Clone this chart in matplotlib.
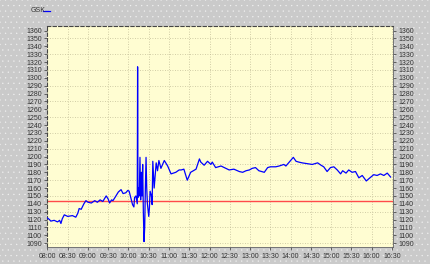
import matplotlib
matplotlib.use("Agg")
import matplotlib.pyplot as plt
import matplotlib.patches as patches

# -------------------------
# Data (minutes after 08:00, price)
# -------------------------
minutes = [0, 3, 5, 10, 15, 18, 20, 22, 25, 30, 37, 42, 45, 47, 50, 54, 57, 60,
           65, 70, 74, 78, 82, 87, 90, 92, 95, 97, 100, 105, 109, 112, 116, 119,
           121, 124, 126, 128, 129, 131, 133, 133.5, 134, 135, 136, 137, 138,
           139, 140, 141, 142, 143, 144, 145, 146, 147, 148, 150, 151, 152, 154,
           155, 156, 158, 161, 163, 165, 168, 173, 178, 183, 190, 195, 198,
           202, 207, 212, 220, 225, 227, 232, 237, 242, 244, 249, 257, 264, 269,
           276, 284, 289, 294, 299, 303, 308, 313, 321, 326, 330, 338, 343,
           350, 353, 358, 364, 368, 372, 377, 385, 392, 400, 405, 409, 414,
           419, 424, 429, 434, 437, 442, 446, 451, 456, 461, 466, 472, 476,
           483, 488, 493, 498, 503, 508]
price = [1122, 1120, 1118, 1119, 1117, 1119, 1115, 1121, 1126, 1124, 1125, 1123,
         1128, 1134, 1133, 1140, 1144, 1142, 1141, 1144, 1142, 1145, 1143, 1150,
         1146, 1141, 1145, 1144, 1148, 1155, 1158, 1153, 1154, 1157, 1156, 1146,
         1139, 1136, 1148, 1150, 1140, 1314, 1148, 1160, 1150, 1199, 1145, 1180,
         1150, 1190, 1130, 1092, 1110, 1160, 1199, 1160, 1140, 1124, 1135, 1156,
         1150, 1139, 1194, 1160, 1192, 1182, 1195, 1185, 1195, 1188, 1178, 1180,
         1183, 1183, 1184, 1170, 1180, 1184, 1197, 1193, 1189, 1194, 1190, 1193,
         1186, 1188, 1185, 1183, 1184, 1181, 1180, 1182, 1183, 1185, 1186, 1182,
         1180, 1186, 1187, 1187, 1188, 1190, 1188, 1193, 1199, 1194, 1193, 1192,
         1191, 1190, 1192, 1189, 1187, 1181, 1186, 1187, 1183, 1178, 1182, 1179,
         1183, 1180, 1181, 1173, 1176, 1169, 1172, 1177, 1176, 1178, 1176, 1179,
         1174]
ref_level = 1143
series_name = "GSK"

tick_labels = ["08:00", "08:30", "09:00", "09:30", "10:00", "10:30", "11:00",
               "11:30", "12:00", "12:30", "13:00", "13:30", "14:00", "14:30",
               "15:00", "15:30", "16:00", "16:30"]
tick_pos = [30 * i for i in range(len(tick_labels))]
y_ticks = list(range(1090, 1361, 10))
y_grid = list(range(1090, 1351, 20))

plt.rcParams['font.family'] = ['Liberation Sans', 'DejaVu Sans']
plt.rcParams['hatch.linewidth'] = 0.15

fig = plt.figure(figsize=(4.31, 2.64), dpi=100)
fig.patch.set_facecolor('#cacaca')
# dotted grey backdrop
fig.patches.append(patches.Rectangle((0, 0), 1, 1, transform=fig.transFigure,
                                     facecolor='none', edgecolor='#f4f4f4',
                                     hatch='...', linewidth=0, zorder=-10))

ax = fig.add_axes([0.110, 0.064, 0.801, 0.838])
ax.set_facecolor('#fffdd2')

ax.plot(minutes, price, color='#0000ff', linewidth=0.9, zorder=3)
ax.axhline(ref_level, color='#ff4a4a', linewidth=1.0, zorder=2)

ax.set_xlim(0, 511)
ax.set_ylim(1085, 1366)

ax.set_xticks(tick_pos)
ax.set_xticklabels(tick_labels)
ax.set_yticks(y_ticks)
ax.tick_params(axis='both', labelsize=5, length=2.5, width=0.5,
               colors='#333333', pad=1.5)
ax.tick_params(axis='y', right=True, labelright=True)

for v in y_grid:
    ax.axhline(v, color='#c2bd98', linewidth=0.6, linestyle=(0, (1, 2)), zorder=1)
for t in tick_pos[1:]:
    ax.axvline(t, color='#c2bd98', linewidth=0.6, linestyle=(0, (1, 2)), zorder=1)

for side in ['left', 'top']:
    ax.spines[side].set_linestyle((0, (3, 2)))
    ax.spines[side].set_color('#444444')
    ax.spines[side].set_linewidth(0.8)
for side in ['right', 'bottom']:
    ax.spines[side].set_color('#666666')
    ax.spines[side].set_linewidth(0.6)

# legend label
fig.text(0.071, 0.960, series_name, fontsize=5, color='#333333', va='center')
fig.add_artist(plt.Line2D([0.100, 0.117], [0.958, 0.958], color='#0000ff',
                          linewidth=0.9, transform=fig.transFigure))

fig.savefig("out.png", dpi=100, facecolor=fig.get_facecolor())
